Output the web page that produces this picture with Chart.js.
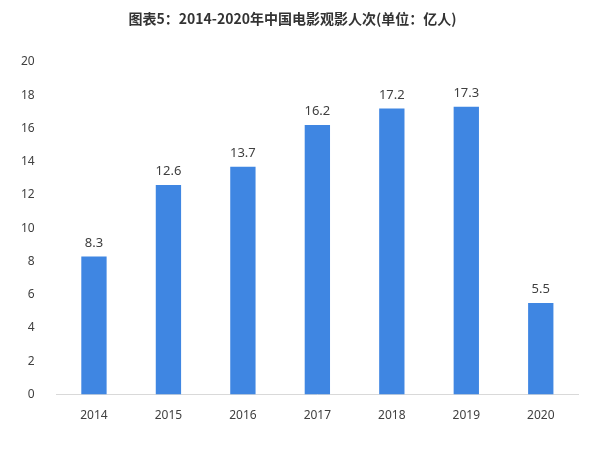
<!DOCTYPE html>
<html>
<head>
<meta charset="utf-8">
<script src="https://cdn.jsdelivr.net/npm/chart.js@4"></script>
<style>
  body{margin:0;background:#fff;}
  #wrap{width:600px;height:474px;position:relative;}
</style>
</head>
<body>
<div id="wrap"><canvas id="myChart"></canvas></div>
<script>
// data
const years = ["2014","2015","2016","2017","2018","2019","2020"];
const viewers = [8.3, 12.6, 13.7, 16.2, 17.2, 17.3, 5.5];
const titleText = "图表5：2014-2020年中国电影观影人次(单位：亿人)";

// draw value labels above bars
const valueLabels = {
  id: "valueLabels",
  afterDatasetsDraw(chart) {
    const ctx = chart.ctx;
    const meta = chart.getDatasetMeta(0);
    ctx.save();
    ctx.font = "13px 'Noto Sans', sans-serif";
    ctx.fillStyle = "#404040";
    ctx.textAlign = "center";
    ctx.textBaseline = "bottom";
    meta.data.forEach((bar, i) => {
      ctx.fillText(viewers[i].toFixed(1), bar.x, bar.y - 7);
    });
    ctx.restore();
  }
};

new Chart("myChart", {
  type: "bar",
  data: {
    labels: years,
    datasets: [{
      data: viewers,
      backgroundColor: "#3F86E2",
      barPercentage: 0.34,
      categoryPercentage: 1
    }]
  },
  options: {
    responsive: true,
    maintainAspectRatio: false,
    animation: false,
    layout: { padding: { left: 7, right: 22, top: 2, bottom: 45 } },
    plugins: {
      legend: { display: false },
      tooltip: { enabled: false },
      title: {
        display: true,
        text: titleText,
        color: "#333",
        font: { family: "'Noto Sans CJK SC', sans-serif", size: 14, weight: "bold" },
        padding: { top: 8, bottom: 35 }
      }
    },
    scales: {
      x: {
        grid: { display: false },
        border: { color: "#d9d9d9" },
        ticks: { color: "#404040", font: { family: "'Noto Sans', sans-serif", size: 12 }, padding: 6 }
      },
      y: {
        min: 0, max: 20,
        ticks: { stepSize: 2, color: "#404040", font: { family: "'Noto Sans', sans-serif", size: 12 }, padding: 14 },
        grid: { display: false },
        border: { display: false }
      }
    }
  },
  plugins: [valueLabels]
});
</script>
</body>
</html>
